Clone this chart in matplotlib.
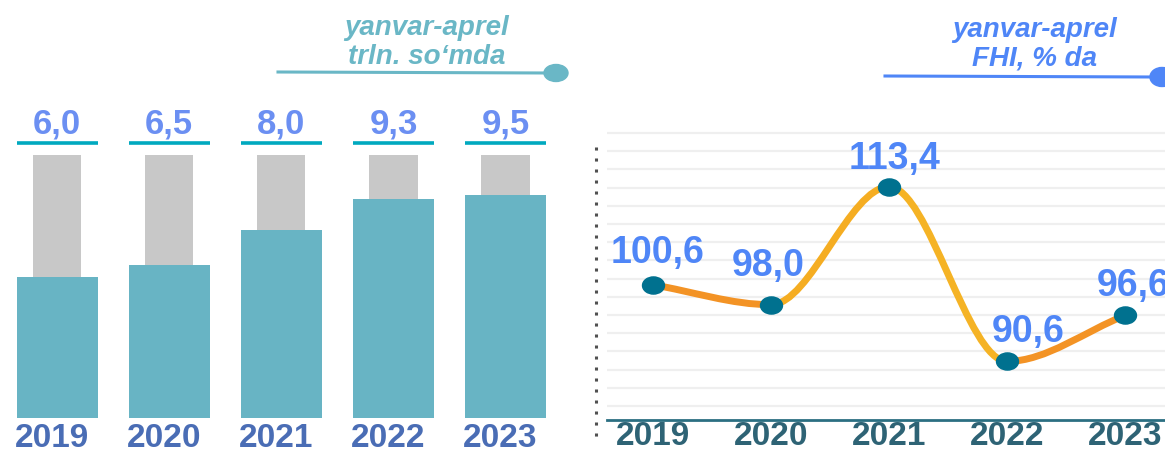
import numpy as np
import matplotlib; matplotlib.use('agg')
import matplotlib.pyplot as plt
from matplotlib.path import Path
from matplotlib.patches import PathPatch, Ellipse

# data
years = ['2019', '2020', '2021', '2022', '2023']
volume = [6.0, 6.5, 8.0, 9.3, 9.5]          # trln. so'mda
volume_labels = ['6,0', '6,5', '8,0', '9,3', '9,5']
volume_bg = 11.2                             # grey background bar height
index = [100.6, 98.0, 113.4, 90.6, 96.6]     # FHI, % da
index_labels = ['100,6', '98,0', '113,4', '90,6', '96,6']

plt.rcParams['font.family'] = ['Liberation Sans', 'DejaVu Sans']

W, H = 1165, 450
fig = plt.figure(figsize=(W / 100, H / 100), dpi=100)

# overlay axes in pixel coords for decorations
deco = fig.add_axes([0, 0, 1, 1])
deco.set_xlim(0, W)
deco.set_ylim(H, 0)
deco.axis('off')

# ---------- left: bars ----------
axl = fig.add_axes([0, 0, 565 / W, 1])
axl.set_facecolor('none')
x = np.arange(len(years))
axl.bar(x, [volume_bg] * len(x), width=0.43, color='#c8c8c8', zorder=1)
axl.bar(x, volume, width=0.72, color='#68b4c4', zorder=2)
for xi, lab in zip(x, volume_labels):
    axl.plot([xi - 0.36, xi + 0.36], [volume_bg + 0.5] * 2, color='#00a9bf',
             lw=2.6, solid_capstyle='butt')
    axl.text(xi, volume_bg + 0.62, lab, ha='center', va='bottom', fontsize=25,
             fontweight='bold', color='#6b8ff2')
    axl.text(xi - 0.05, -29 / 23.5, years[xi], ha='center', va='baseline',
             fontsize=24, fontweight='bold', color='#4a6db5')
axl.set_xlim(-0.51, 4.53)
axl.set_ylim(-32 / 23.5, 418 / 23.5)
axl.axis('off')

# ---------- right: line ----------
axr = fig.add_axes([607 / W, 30 / H, 1 - 607 / W, 420 / H])
axr.set_facecolor('none')
xr = np.arange(len(index))
y = np.array(index, dtype=float)

# monotone cubic (Fritsch-Carlson) tangents, drawn as bezier curves
d = np.diff(y)
m = np.zeros_like(y)
m[0], m[-1] = d[0], d[-1]
for k in range(1, len(y) - 1):
    if d[k - 1] * d[k] > 0:
        m[k] = 2 / (1 / d[k - 1] + 1 / d[k])
seg_colors = ['#f39325', '#f5ad22', '#f5b325', '#f39325']
for k in range(len(y) - 1):
    verts = [(xr[k], y[k]), (xr[k] + 1 / 3, y[k] + m[k] / 3),
             (xr[k + 1] - 1 / 3, y[k + 1] - m[k + 1] / 3), (xr[k + 1], y[k + 1])]
    path = Path(verts, [Path.MOVETO, Path.CURVE4, Path.CURVE4, Path.CURVE4])
    axr.add_patch(PathPatch(path, fill=False, edgecolor=seg_colors[k], lw=5,
                            capstyle='round', zorder=3))

ell = Path.unit_circle()
ell = Path(ell.vertices * np.array([1.0, 0.78]), ell.codes)
axr.scatter(xr, y, marker=ell, s=250, color='#00718f', zorder=4, clip_on=False)

offsets = [(5, 32), (-3, 39), (6, 28), (21, 29), (8, 29)]
for xi, yi, lab, off in zip(xr, y, index_labels, offsets):
    axr.annotate(lab, (xi, yi), xytext=off, textcoords='offset pixels',
                 ha='center', va='center', fontsize=27, fontweight='bold',
                 color='#4f86f7', annotation_clip=False)

axr.set_xlim(-0.39, 4.339)
axr.set_ylim(82.95, 137.78)
axr.set_yticks(np.linspace(84.77, 120.41, 16))
axr.grid(axis='y', color='#efefef', lw=1.6)
axr.set_axisbelow(True)
axr.set_xticks(xr)
axr.set_xticklabels(years, fontsize=24, fontweight='bold', color='#2e6375')
axr.tick_params(axis='x', length=0, pad=1)
axr.tick_params(axis='y', length=0, labelleft=False)
for s in ['top', 'right', 'left']:
    axr.spines[s].set_visible(False)
axr.spines['bottom'].set_color('#2b6f82')
axr.spines['bottom'].set_linewidth(2)

# dotted separator
deco.plot([596, 596], [147, 438], color='#505050', lw=2.2, ls=(0, (1, 2.6)))

# titles
deco.text(427, 28, 'yanvar-aprel', ha='center', va='center', fontsize=20,
          fontweight='bold', style='italic', color='#6ab7c6')
deco.text(427, 57, 'trln. so\u2018mda', ha='center', va='center', fontsize=20,
          fontweight='bold', style='italic', color='#6ab7c6')
deco.plot([278, 550], [72, 73], color='#6ab7c6', lw=2.2)
deco.add_patch(Ellipse((556, 73), 24, 17, color='#6ab7c6'))

deco.text(1035, 30, 'yanvar-aprel', ha='center', va='center', fontsize=20,
          fontweight='bold', style='italic', color='#4f86f7')
deco.text(1035, 59, 'FHI, % da', ha='center', va='center', fontsize=20,
          fontweight='bold', style='italic', color='#4f86f7')
deco.plot([885, 1155], [76, 77], color='#4f86f7', lw=2.2)
deco.add_patch(Ellipse((1162, 77), 24, 19, color='#4f86f7'))

fig.savefig('out.png', dpi=100)
